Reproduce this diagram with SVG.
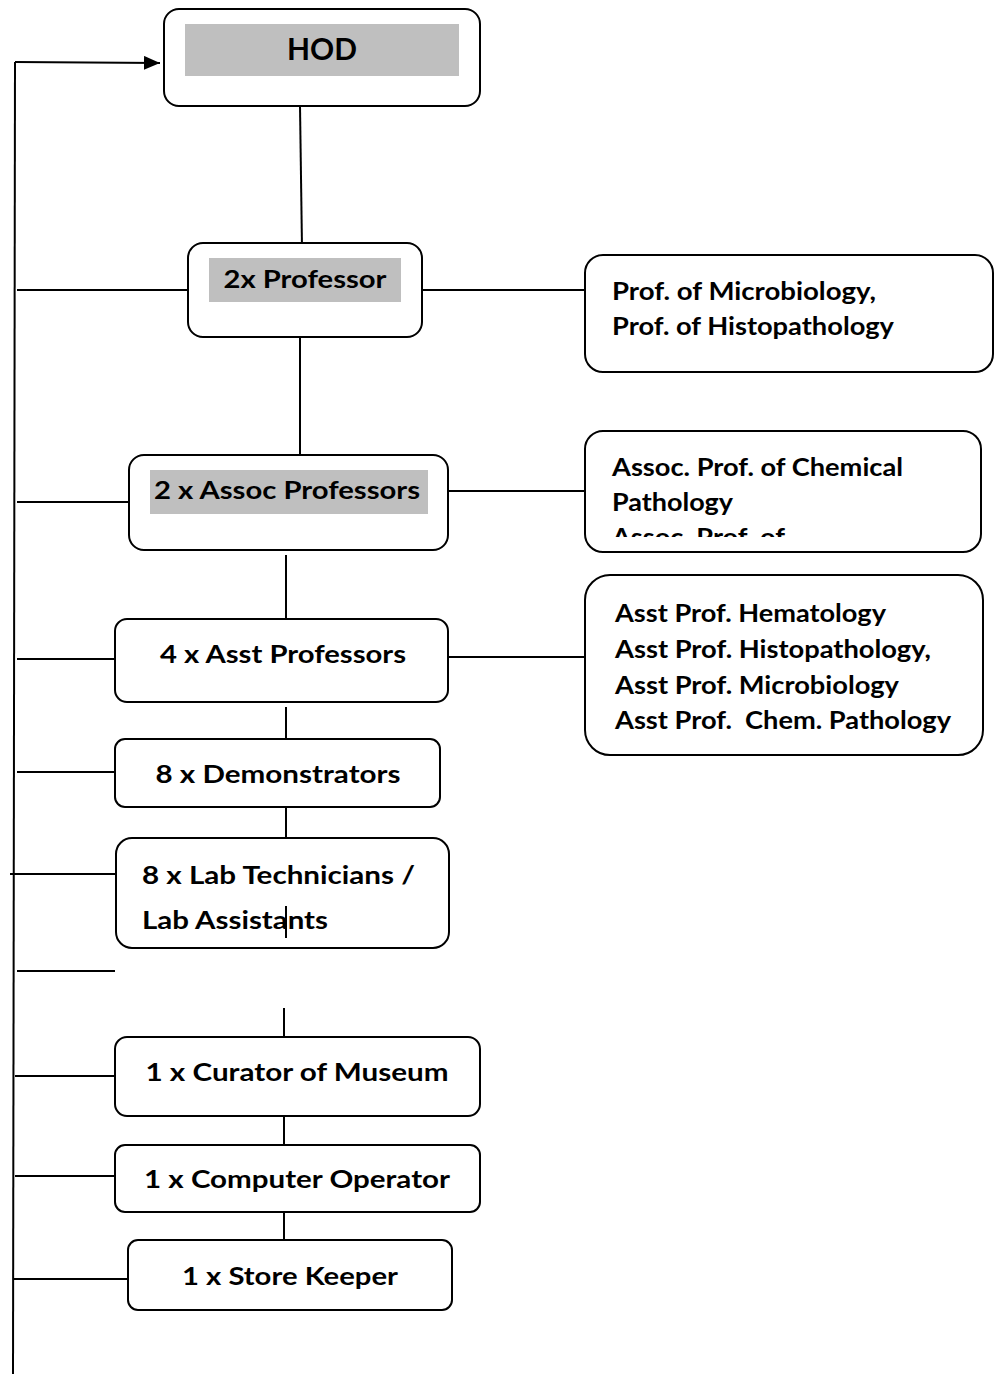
<svg xmlns="http://www.w3.org/2000/svg" width="995" height="1374" viewBox="0 0 995 1374">
<style>
.box{fill:#fff;stroke:#000;stroke-width:2}
.hl{fill:#bfbfbf}
.t{font-family:Lato,"Liberation Sans",sans-serif;font-weight:bold;font-size:25px;fill:#000}
.c{text-anchor:middle}
.ln{stroke:#000;stroke-width:2;fill:none}
</style>
<defs>
<marker id="arr" viewBox="0 0 16 14" refX="16" refY="7" markerWidth="16" markerHeight="14" markerUnits="userSpaceOnUse" orient="auto">
<path d="M0,0 L16,7 L0,14 z" fill="#000"/>
</marker>
<clipPath id="clipAssoc"><rect x="586" y="432" width="394" height="105"/></clipPath>
</defs>
<g id="connectors">
<line class="ln" x1="15" y1="62" x2="13" y2="1374"/>
<line class="ln" x1="15" y1="62" x2="160" y2="63" marker-end="url(#arr)"/>
<line class="ln" x1="300" y1="106" x2="302" y2="248"/>
<line class="ln" x1="17" y1="290" x2="188" y2="290"/>
<line class="ln" x1="422" y1="290" x2="585" y2="290"/>
<line class="ln" x1="300" y1="337" x2="300" y2="455"/>
<line class="ln" x1="17" y1="502" x2="129" y2="502"/>
<line class="ln" x1="448" y1="491" x2="585" y2="491"/>
<line class="ln" x1="286" y1="555" x2="286" y2="619"/>
<line class="ln" x1="17" y1="659" x2="115" y2="659"/>
<line class="ln" x1="448" y1="657" x2="585" y2="657"/>
<line class="ln" x1="286" y1="707" x2="286" y2="739"/>
<line class="ln" x1="17" y1="772" x2="115" y2="772"/>
<line class="ln" x1="286" y1="808" x2="286" y2="838"/>
<line class="ln" x1="10" y1="874" x2="116" y2="874"/>
<line class="ln" x1="17" y1="971" x2="115" y2="971"/>
<line class="ln" x1="284" y1="1008" x2="284" y2="1037"/>
<line class="ln" x1="15" y1="1076" x2="115" y2="1076"/>
<line class="ln" x1="284" y1="1116" x2="284" y2="1145"/>
<line class="ln" x1="15" y1="1176" x2="115" y2="1176"/>
<line class="ln" x1="284" y1="1212" x2="284" y2="1240"/>
<line class="ln" x1="13" y1="1279" x2="128" y2="1279"/>
</g>
<g id="hod">
<rect class="box" x="164" y="9" width="316" height="97" rx="15"/>
<rect class="hl" x="185" y="24" width="274" height="52"/>
<text class="t c" x="322" y="60" style="font-size:30px" textLength="70" lengthAdjust="spacingAndGlyphs">HOD</text>
</g>
<g id="professor">
<rect class="box" x="188" y="243" width="234" height="94" rx="15"/>
<rect class="hl" x="209" y="258" width="192" height="44"/>
<text class="t c" x="305" y="288" textLength="163" lengthAdjust="spacingAndGlyphs">2x Professor</text>
</g>
<g id="professor-detail">
<rect class="box" x="585" y="255" width="408" height="117" rx="18"/>
<text class="t" x="612" y="300" textLength="264" lengthAdjust="spacingAndGlyphs">Prof. of Microbiology,</text>
<text class="t" x="612" y="335" textLength="282" lengthAdjust="spacingAndGlyphs">Prof. of Histopathology</text>
</g>
<g id="assoc">
<rect class="box" x="129" y="455" width="319" height="95" rx="15"/>
<rect class="hl" x="150" y="470" width="278" height="44"/>
<text class="t c" x="287" y="499" textLength="266" lengthAdjust="spacingAndGlyphs">2 x Assoc Professors</text>
</g>
<g id="assoc-detail">
<rect class="box" x="585" y="431" width="396" height="121" rx="18"/>
<g clip-path="url(#clipAssoc)">
<text class="t" x="612" y="476" textLength="291" lengthAdjust="spacingAndGlyphs">Assoc. Prof. of Chemical</text>
<text class="t" x="612" y="511" textLength="121" lengthAdjust="spacingAndGlyphs">Pathology</text>
<text class="t" x="612" y="546" textLength="173" lengthAdjust="spacingAndGlyphs">Assoc. Prof. of</text>
</g>
</g>
<g id="asst">
<rect class="box" x="115" y="619" width="333" height="83" rx="12"/>
<text class="t c" x="283" y="663" textLength="246" lengthAdjust="spacingAndGlyphs">4 x Asst Professors</text>
</g>
<g id="asst-detail">
<rect class="box" x="585" y="575" width="398" height="180" rx="25"/>
<text class="t" x="615" y="622" textLength="271" lengthAdjust="spacingAndGlyphs">Asst Prof. Hematology</text>
<text class="t" x="615" y="658" textLength="316" lengthAdjust="spacingAndGlyphs">Asst Prof. Histopathology,</text>
<text class="t" x="615" y="694" textLength="284" lengthAdjust="spacingAndGlyphs">Asst Prof. Microbiology</text>
<text class="t" x="615" y="729" textLength="336" lengthAdjust="spacingAndGlyphs" xml:space="preserve">Asst Prof.  Chem. Pathology</text>
</g>
<g id="demonstrators">
<rect class="box" x="115" y="739" width="325" height="68" rx="10"/>
<text class="t c" x="278" y="783" textLength="245" lengthAdjust="spacingAndGlyphs">8 x Demonstrators</text>
</g>
<g id="labtech">
<rect class="box" x="116" y="838" width="333" height="110" rx="16"/>
<text class="t" x="142" y="884" textLength="273" lengthAdjust="spacingAndGlyphs">8 x Lab Technicians /</text>
<text class="t" x="142" y="929" textLength="186" lengthAdjust="spacingAndGlyphs">Lab Assistants</text>
<line class="ln" x1="286" y1="906" x2="286" y2="938"/>
</g>
<g id="curator">
<rect class="box" x="115" y="1037" width="365" height="79" rx="12"/>
<text class="t c" x="297" y="1081" textLength="303" lengthAdjust="spacingAndGlyphs">1 x Curator of Museum</text>
</g>
<g id="computer">
<rect class="box" x="115" y="1145" width="365" height="67" rx="10"/>
<text class="t c" x="297" y="1188" textLength="306" lengthAdjust="spacingAndGlyphs">1 x Computer Operator</text>
</g>
<g id="storekeeper">
<rect class="box" x="128" y="1240" width="324" height="70" rx="10"/>
<text class="t c" x="290" y="1285" textLength="216" lengthAdjust="spacingAndGlyphs">1 x Store Keeper</text>
</g>
</svg>
